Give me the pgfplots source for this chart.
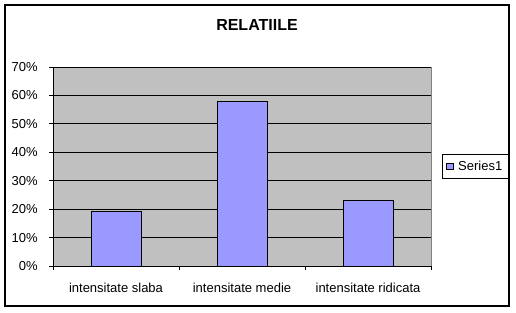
\documentclass[border=0pt]{standalone}
\usepackage{pgfplots}
\pgfplotsset{compat=1.18}
\usepackage{fontspec}
\setmainfont{Liberation Sans}
\definecolor{plotgray}{HTML}{C0C0C0}
\definecolor{bargblue}{HTML}{9999FF}
\definecolor{bordergray}{HTML}{808080}
\begin{document}
\begin{tikzpicture}
\path[use as bounding box] (0pt,0pt) rectangle (387pt,234pt);
\draw[black, line width=0.8pt] (3.75pt,4.5pt) rectangle (381.75pt,230.25pt);
\node[font=\bfseries\fontsize{12}{14}\selectfont] at (192.75pt,215.25pt) {RELATIILE};
\begin{axis}[
  at={(39.75pt,34.5pt)}, anchor=south west,
  scale only axis, width=283.5pt, height=149.25pt,
  xmin=-0.5, xmax=2.5, ymin=0, ymax=70,
  ybar, bar width=37.5pt,
  axis background/.style={fill=plotgray, draw=bordergray},
  axis x line*=bottom, axis y line*=left,
  axis line style={black, line width=0.75pt, -},
  xtick={0,1,2},
  xticklabels={intensitate slaba, intensitate medie, intensitate ridicata},
  minor xtick={-0.5,0.5,1.5,2.5},
  ytick={0,10,...,70},
  yticklabel={\pgfmathprintnumber{\tick}\%},
  ymajorgrids, major grid style={black, line width=0.7pt},
  tick align=outside,
  major tick length=3pt, minor tick length=3pt,
  xtick style={draw=none},
  minor x tick style={black, line width=0.75pt, draw=black},
  ytick style={black, line width=0.75pt},
  /pgf/number format/assume math mode=true,
  tick label style={font=\fontsize{9.75}{11}\selectfont},
  xticklabel style={yshift=-6pt},
  yticklabel style={xshift=-5pt},
  legend style={at={(1.029,0.5)}, anchor=west, draw=black, fill=white,
    font=\fontsize{9.75}{11}\selectfont, inner xsep=3pt, inner ysep=2.5pt, line width=0.75pt,
    /tikz/every odd column/.append style={column sep=1.5pt}},
  legend image code/.code={\draw[#1, line width=0.5pt] (0pt,-2.4pt) rectangle (4.8pt,2.4pt);},
]
\addplot[fill=bargblue, draw=black, line width=0.75pt] coordinates {(0,19) (1,58) (2,23)};
\legend{Series1}
\end{axis}
\end{tikzpicture}
\end{document}
